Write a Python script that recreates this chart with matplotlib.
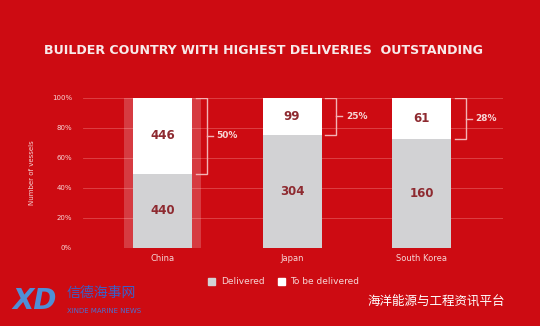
import numpy as np
import matplotlib.pyplot as plt
from matplotlib.patches import Rectangle

plt.rcParams['font.family'] = ['DejaVu Sans', 'Noto Sans CJK SC']

countries = ['China', 'Japan', 'South Korea']
delivered = [440, 304, 160]
to_deliver = [446, 99, 61]

bg = '#cd0b12'
grey = '#d2d2d4'
num_col = '#8e2a30'
txt_col = '#f6d6d6'

fig = plt.figure(figsize=(5.4, 3.26), dpi=100, facecolor=bg)
ax = fig.add_axes([83 / 540, 78 / 326, 420 / 540, 150 / 326])
ax.set_facecolor(bg)

total = np.array(delivered) + np.array(to_deliver)
share_del = np.array(delivered) / total * 100
share_out = np.array(to_deliver) / total * 100
x = np.arange(len(countries))
w = 0.456

# grid
for v in range(0, 101, 20):
    ax.axhline(v, color='#e0474b', lw=0.6, zorder=0)

# faded halo behind China bar
ax.bar(x[0], 100, width=0.59, color='white', alpha=0.2, zorder=1)

ax.bar(x, share_del, width=w, color=grey, zorder=2)
ax.bar(x, share_out, width=w, bottom=share_del, color='white', zorder=2)

for i in range(len(countries)):
    ax.text(x[i], share_del[i] / 2, str(delivered[i]), ha='center', va='center',
            fontsize=8.5, fontweight='bold', color=num_col, zorder=3)
    ax.text(x[i], share_del[i] + share_out[i] / 2, str(to_deliver[i]), ha='center',
            va='center', fontsize=8.5, fontweight='bold', color=num_col, zorder=3)
    # bracket
    x0 = x[i] + w / 2 + 0.03
    x1 = x[i] + w / 2 + 0.115
    mid = share_del[i] + share_out[i] / 2
    ax.plot([x0, x1, x1, x0], [100, 100, share_del[i], share_del[i]],
            color='#f3b3b5', lw=1.0, zorder=3, solid_joinstyle='miter')
    ax.plot([x1, x1 + 0.045], [mid, mid], color='#f3b3b5', lw=1.0, zorder=3)
    ax.text(x1 + 0.075, mid, '%d%%' % round(share_out[i]), ha='left', va='center',
            fontsize=6.5, fontweight='bold', color=txt_col)
    ax.text(x[i], -4, countries[i], ha='center', va='top', fontsize=6,
            color=txt_col)

ax.set_xlim(-0.614, 2.629)
ax.set_ylim(0, 100)
ax.set_yticks(range(0, 101, 20))
ax.set_yticklabels(['%d%%' % v for v in range(0, 101, 20)], fontsize=5,
                   color=txt_col)
ax.tick_params(axis='y', length=0, pad=8)
ax.set_xticks([])
for s in ax.spines.values():
    s.set_visible(False)
ax.set_ylabel('Number of vessels', fontsize=5, color=txt_col, labelpad=12)

fig.text(264 / 540, 1 - 50 / 326, 'BUILDER COUNTRY WITH HIGHEST DELIVERIES  OUTSTANDING',
         ha='center', va='center', fontsize=9.1, fontweight='bold', color='#f8eaea')

# legend
fig.patches.append(Rectangle((208 / 540, 1 - 285 / 326), 7 / 540, 7 / 326,
                             transform=fig.transFigure, color=grey))
fig.text(221 / 540, 1 - 281 / 326, 'Delivered', fontsize=6.5, color=txt_col,
         va='center')
fig.patches.append(Rectangle((278 / 540, 1 - 285 / 326), 7 / 540, 7 / 326,
                             transform=fig.transFigure, color='white'))
fig.text(290 / 540, 1 - 281 / 326, 'To be delivered', fontsize=6.5, color=txt_col,
         va='center')

# watermarks
fig.text(12 / 540, 1 - 301 / 326, 'XD', fontsize=20, fontweight='bold',
         color='#4f8fd6', va='center', fontstyle='italic')
fig.text(67 / 540, 1 - 293 / 326, '信德海事网', fontsize=10, color='#3a5fc8',
         va='center', family=['Noto Sans CJK SC'])
fig.text(67 / 540, 1 - 311 / 326, 'XINDE MARINE NEWS', fontsize=5, color='#4a6fd0',
         va='center')
fig.text(368 / 540, 1 - 301 / 326, '海洋能源与工程资讯平台', fontsize=9,
         color='white', va='center', family=['Noto Sans CJK SC'])

fig.savefig('out.png', dpi=100, facecolor=bg)
